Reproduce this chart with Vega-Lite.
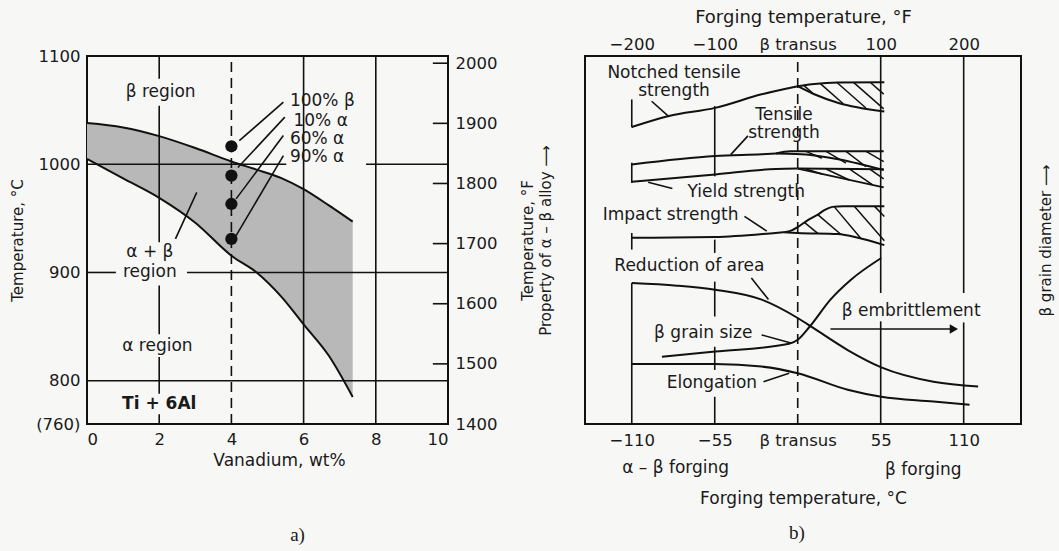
{
  "$schema": "https://vega.github.io/schema/vega-lite/v6.json",
  "background": "#f7f7f6",
  "padding": {"left": 9, "top": 7, "right": 5, "bottom": 5},
  "spacing": 0,
  "config": {
    "font": "DejaVu Sans",
    "view": {"stroke": "#111111", "strokeWidth": 2},
    "axis": {"labelFont": "DejaVu Sans", "titleFont": "DejaVu Sans", "labelColor": "#1a1a1a", "titleColor": "#1a1a1a", "titleFontWeight": "normal", "labelFontSize": 16.5, "titleFontSize": 17, "domain": false, "ticks": false, "grid": false, "labelPadding": 7},
    "text": {"font": "DejaVu Sans", "fontSize": 17, "color": "#1a1a1a", "baseline": "middle"},
    "title": {"font": "Liberation Serif", "fontSize": 19, "fontWeight": "normal", "color": "#1a1a1a"},
    "line": {"color": "#111111", "strokeWidth": 2},
    "rule": {"color": "#111111", "strokeWidth": 1.6}
  },
  "datasets": {
    "phase": [
      {"x": 0, "lo": 1005, "hi": 1038},
      {"x": 1, "lo": 987, "hi": 1034},
      {"x": 2, "lo": 969, "hi": 1026},
      {"x": 3, "lo": 946, "hi": 1015},
      {"x": 4, "lo": 915.5, "hi": 1002.5},
      {"x": 4.7, "lo": 900, "hi": 995},
      {"x": 5.4, "lo": 877, "hi": 987},
      {"x": 6, "lo": 852, "hi": 977},
      {"x": 6.7, "lo": 823, "hi": 962},
      {"x": 7.36, "lo": 785, "hi": 947}
    ],
    "lhl": [
      {"y": 1000, "x1": 0, "x2": 5.52},
      {"y": 1000, "x1": 7.73, "x2": 10},
      {"y": 900, "x1": 0, "x2": 0.8},
      {"y": 900, "x1": 2.77, "x2": 10},
      {"y": 800, "x1": 0, "x2": 10}
    ],
    "lvl": [
      {"x": 2, "y1": 1079, "y2": 1100},
      {"x": 2, "y1": 928, "y2": 1054},
      {"x": 2, "y1": 843, "y2": 888},
      {"x": 2, "y1": 788, "y2": 822},
      {"x": 2, "y1": 760, "y2": 769},
      {"x": 6, "y1": 760, "y2": 1100},
      {"x": 8, "y1": 760, "y2": 1100}
    ],
    "lleaders": [
      {"x": 5.44, "y": 1057.3, "x2": 4.22, "y2": 1021.8},
      {"x": 5.48, "y": 1043.5, "x2": 4.18, "y2": 997},
      {"x": 5.44, "y": 1026.5, "x2": 4.13, "y2": 968},
      {"x": 5.44, "y": 1008, "x2": 4.13, "y2": 934},
      {"x": 2.45, "y": 931, "x2": 3.04, "y2": 974}
    ],
    "dots": [
      {"x": 4, "T": 1016.6},
      {"x": 4, "T": 989.5},
      {"x": 4, "T": 963.3},
      {"x": 4, "T": 931}
    ],
    "ltl": [
      {"x": 5.62, "y": 1058.8, "t": "100% β"},
      {"x": 5.72, "y": 1040.3, "t": "10% α"},
      {"x": 5.62, "y": 1023.4, "t": "60% α"},
      {"x": 5.62, "y": 1006.8, "t": "90% α"}
    ],
    "ltc": [
      {"x": 2.04, "y": 1066.5, "t": "β region"},
      {"x": 1.74, "y": 918.7, "t": "α + β"},
      {"x": 1.74, "y": 900.2, "t": "region"},
      {"x": 1.95, "y": 832.4, "t": "α region"}
    ],
    "fticks": [
      {"F": 1500}, {"F": 1600}, {"F": 1700}, {"F": 1800}, {"F": 1900}, {"F": 2000}
    ],
    "curves": [
      {"s": "n", "x": -110, "v": 80.7}, {"s": "n", "x": -85.4, "v": 83.7}, {"s": "n", "x": -54.7, "v": 85.9}, {"s": "n", "x": -23.9, "v": 89.6}, {"s": "n", "x": 0, "v": 91.8},
      {"s": "nu", "x": 0, "v": 91.8}, {"s": "nu", "x": 11, "v": 92.4}, {"s": "nu", "x": 26.5, "v": 92.8}, {"s": "nu", "x": 57.4, "v": 92.9},
      {"s": "nl", "x": 0, "v": 91.8}, {"s": "nl", "x": 11, "v": 89.6}, {"s": "nl", "x": 26.5, "v": 87.3}, {"s": "nl", "x": 57.4, "v": 84.9},
      {"s": "t", "x": -110, "v": 70.5}, {"s": "t", "x": -54.7, "v": 72.8}, {"s": "t", "x": -23.9, "v": 73.3}, {"s": "t", "x": -14.4, "v": 73.5},
      {"s": "tu", "x": -14.4, "v": 73.5}, {"s": "tu", "x": -5, "v": 74.1}, {"s": "tu", "x": 57, "v": 74.1},
      {"s": "tl", "x": -14.4, "v": 73.5}, {"s": "tl", "x": -1.1, "v": 73.4}, {"s": "tl", "x": 57, "v": 69.0},
      {"s": "y", "x": -110, "v": 65.8}, {"s": "y", "x": -54.7, "v": 67.8}, {"s": "y", "x": -14.4, "v": 69.3}, {"s": "y", "x": 0, "v": 69.4},
      {"s": "yu", "x": 0, "v": 69.4}, {"s": "yu", "x": 57, "v": 69.2},
      {"s": "yl", "x": 0, "v": 69.4}, {"s": "yl", "x": 57, "v": 64.3},
      {"s": "i", "x": -110, "v": 50.6}, {"s": "i", "x": -54.7, "v": 50.8}, {"s": "i", "x": -14.8, "v": 51.9}, {"s": "i", "x": -8.9, "v": 52.1},
      {"s": "iu", "x": -8.9, "v": 52.1}, {"s": "iu", "x": -4, "v": 52.6}, {"s": "iu", "x": 0, "v": 53.5}, {"s": "iu", "x": 6, "v": 55.2}, {"s": "iu", "x": 13.3, "v": 56.9}, {"s": "iu", "x": 18, "v": 58.2}, {"s": "iu", "x": 23, "v": 59.0}, {"s": "iu", "x": 30, "v": 59.2}, {"s": "iu", "x": 57.4, "v": 59.2},
      {"s": "il", "x": -8.9, "v": 52.1}, {"s": "il", "x": 0, "v": 51.9}, {"s": "il", "x": 26.5, "v": 51.6}, {"s": "il", "x": 40, "v": 50.6}, {"s": "il", "x": 57.4, "v": 48.6},
      {"s": "r", "x": -110, "v": 38.3}, {"s": "r", "x": -80, "v": 37.6}, {"s": "r", "x": -54.7, "v": 36.5}, {"s": "r", "x": -23.9, "v": 33.8}, {"s": "r", "x": 0, "v": 28.8}, {"s": "r", "x": 10.3, "v": 26.1}, {"s": "r", "x": 33.1, "v": 20.1}, {"s": "r", "x": 55.4, "v": 15.4}, {"s": "r", "x": 90, "v": 11.5}, {"s": "r", "x": 119.6, "v": 10.2},
      {"s": "g", "x": -90, "v": 18.3}, {"s": "g", "x": -54.7, "v": 19.7}, {"s": "g", "x": -5.7, "v": 21.8}, {"s": "g", "x": 0, "v": 22.9}, {"s": "g", "x": 8, "v": 26.5}, {"s": "g", "x": 21.7, "v": 33.8}, {"s": "g", "x": 35.3, "v": 39.2}, {"s": "g", "x": 55.4, "v": 45.1},
      {"s": "e", "x": -110, "v": 16.3}, {"s": "e", "x": -54.7, "v": 16.3}, {"s": "e", "x": -23.9, "v": 15.6}, {"s": "e", "x": 0, "v": 13.8}, {"s": "e", "x": 33.1, "v": 9.3}, {"s": "e", "x": 55.4, "v": 7.4}, {"s": "e", "x": 90, "v": 6.1}, {"s": "e", "x": 113.9, "v": 5.2}
    ],
    "hatch": [
      {"x": 4, "v": 92.02, "x2": 10.4, "v2": 89.72},
      {"x": 15, "v": 92.5, "x2": 30.2, "v2": 87.03},
      {"x": 26, "v": 92.79, "x2": 45.2, "v2": 85.88},
      {"x": 37, "v": 92.83, "x2": 57, "v2": 85.63},
      {"x": 48, "v": 92.87, "x2": 57, "v2": 89.63},
      {"x": 5.5, "v": 74.1, "x2": 16, "v2": 72.2},
      {"x": 18.8, "v": 74.1, "x2": 32, "v2": 70.9},
      {"x": 32, "v": 74.1, "x2": 45.3, "v2": 69.9},
      {"x": 45.3, "v": 74.1, "x2": 57, "v2": 71.3},
      {"x": 5.5, "v": 69.3, "x2": 16.6, "v2": 67.85},
      {"x": 18.8, "v": 69.3, "x2": 34.2, "v2": 66.3},
      {"x": 34.2, "v": 69.3, "x2": 49.7, "v2": 64.95},
      {"x": 47.5, "v": 69.3, "x2": 57, "v2": 66.6},
      {"x": 4.4, "v": 54.8, "x2": 13.3, "v2": 51.8},
      {"x": 13.3, "v": 56.9, "x2": 28.7, "v2": 51.5},
      {"x": 24.3, "v": 59.0, "x2": 41.9, "v2": 50.4},
      {"x": 37.5, "v": 59.2, "x2": 57.4, "v2": 49.8},
      {"x": 50.8, "v": 59.2, "x2": 57.4, "v2": 56.4}
    ],
    "rvl": [
      {"x": -110, "v1": 88.2, "v2": 80.6},
      {"x": -110, "v1": 71.0, "v2": 65.5},
      {"x": -110, "v1": 51.9, "v2": 47.4},
      {"x": -110, "v1": 38.3, "v2": 0},
      {"x": -55, "v1": 86.4, "v2": 67.3},
      {"x": -55, "v1": 50.1, "v2": 46.5},
      {"x": -55, "v1": 38.7, "v2": 29.2},
      {"x": -55, "v1": 21.0, "v2": 14.7},
      {"x": -55, "v1": 7.4, "v2": 0},
      {"x": 55, "v1": 100, "v2": 35.6},
      {"x": 55, "v1": 27.9, "v2": 0},
      {"x": 110, "v1": 100, "v2": 35.6},
      {"x": 110, "v1": 27.6, "v2": 0}
    ],
    "rleaders": [
      {"x": -96.8, "v": 87.7, "x2": -85.4, "v2": 83.5},
      {"x": -33, "v": 78.3, "x2": -44.4, "v2": 73.2},
      {"x": -83.1, "v": 64.0, "x2": -99.1, "v2": 65.7},
      {"x": -35.3, "v": 56.4, "x2": -20.5, "v2": 52.4},
      {"x": -30.7, "v": 39.7, "x2": -19.4, "v2": 33.8},
      {"x": -23.9, "v": 24.2, "x2": -4.5, "v2": 22.0},
      {"x": -22.7, "v": 11.5, "x2": -5.7, "v2": 13.8},
      {"x": 21.7, "v": 25.8, "x2": 102, "v2": 25.8}
    ],
    "rtext": [
      {"x": -82, "v": 95.5, "t": "Notched tensile"},
      {"x": -82, "v": 90.5, "t": "strength"},
      {"x": -9.1, "v": 84.1, "t": "Tensile"},
      {"x": -9.1, "v": 79.1, "t": "strength"},
      {"x": -34.1, "v": 63.0, "t": "Yield strength"},
      {"x": -84.3, "v": 56.9, "t": "Impact strength"},
      {"x": -71.8, "v": 42.8, "t": "Reduction of area"},
      {"x": -62.6, "v": 24.7, "t": "β grain size"},
      {"x": -56.9, "v": 11.1, "t": "Elongation"},
      {"x": 75.2, "v": 30.6, "t": "β embrittlement"},
      {"x": -80.9, "v": -12.0, "t": "α – β forging"},
      {"x": 83.2, "v": -12.5, "t": "β forging"}
    ]
  },
  "hconcat": [
    {
      "width": 361,
      "height": 368,
      "title": {"text": "a)", "orient": "bottom", "offset": 57, "dx": 30},
      "layer": [
        {
          "layer": [
            {
              "data": {"name": "phase"},
              "mark": {"type": "area", "color": "#b8b8b8", "interpolate": "monotone"},
              "encoding": {
                "x": {"field": "x", "type": "quantitative", "scale": {"domain": [0, 10], "nice": false}, "axis": {"values": [0, 2, 4, 6, 8, 10], "format": "d", "title": "Vanadium, wt%", "titlePadding": 5, "titleX": 192}},
                "y": {"field": "lo", "type": "quantitative", "scale": {"domain": [760, 1100], "nice": false, "zero": false}, "axis": {"values": [760, 800, 900, 1000, 1100], "format": "d", "labelExpr": "datum.value == 760 ? '(760)' : datum.label", "title": "Temperature, °C", "titleFontSize": 15, "titlePadding": 10}},
                "y2": {"field": "hi"}
              }
            },
            {
              "data": {"name": "lhl"},
              "mark": "rule",
              "encoding": {"x": {"field": "x1", "type": "quantitative"}, "x2": {"field": "x2"}, "y": {"field": "y", "type": "quantitative"}}
            },
            {
              "data": {"name": "lvl"},
              "mark": "rule",
              "encoding": {"x": {"field": "x", "type": "quantitative"}, "y": {"field": "y1", "type": "quantitative"}, "y2": {"field": "y2"}}
            },
            {
              "data": {"values": [{"x": 4, "y1": 760, "y2": 1100}]},
              "mark": {"type": "rule", "strokeDash": [10, 6]},
              "encoding": {"x": {"field": "x", "type": "quantitative"}, "y": {"field": "y1", "type": "quantitative"}, "y2": {"field": "y2"}}
            },
            {
              "data": {"name": "phase"},
              "mark": {"type": "line", "interpolate": "monotone"},
              "encoding": {"x": {"field": "x", "type": "quantitative"}, "y": {"field": "hi", "type": "quantitative"}}
            },
            {
              "data": {"name": "phase"},
              "mark": {"type": "line", "interpolate": "monotone"},
              "encoding": {"x": {"field": "x", "type": "quantitative"}, "y": {"field": "lo", "type": "quantitative"}}
            },
            {
              "data": {"name": "lleaders"},
              "mark": "rule",
              "encoding": {"x": {"field": "x", "type": "quantitative"}, "y": {"field": "y", "type": "quantitative"}, "x2": {"field": "x2"}, "y2": {"field": "y2"}}
            },
            {
              "data": {"name": "dots"},
              "mark": {"type": "point", "filled": true, "size": 150, "color": "#111111", "opacity": 1},
              "encoding": {"x": {"field": "x", "type": "quantitative"}, "y": {"field": "T", "type": "quantitative"}}
            },
            {
              "data": {"name": "ltl"},
              "mark": {"type": "text", "align": "left"},
              "encoding": {"x": {"field": "x", "type": "quantitative"}, "y": {"field": "y", "type": "quantitative"}, "text": {"field": "t"}}
            },
            {
              "data": {"name": "ltc"},
              "mark": {"type": "text", "align": "center"},
              "encoding": {"x": {"field": "x", "type": "quantitative"}, "y": {"field": "y", "type": "quantitative"}, "text": {"field": "t"}}
            },
            {
              "data": {"values": [{"x": 2.0, "y": 778.5, "t": "Ti + 6Al"}]},
              "mark": {"type": "text", "align": "center", "fontWeight": "bold"},
              "encoding": {"x": {"field": "x", "type": "quantitative"}, "y": {"field": "y", "type": "quantitative"}, "text": {"field": "t"}}
            }
          ]
        },
        {
          "data": {"name": "fticks"},
          "mark": {"type": "rule"},
          "encoding": {
            "y": {"field": "F", "type": "quantitative", "scale": {"domain": [1400, 2012], "nice": false, "zero": false}, "axis": {"orient": "right", "values": [1400, 1500, 1600, 1700, 1800, 1900, 2000], "format": "d", "title": "Temperature, °F", "titleFontSize": 15, "titleAngle": 270, "titleBaseline": "top", "titlePadding": 24}},
            "x": {"datum": 9.58, "type": "quantitative"},
            "x2": {"datum": 10}
          }
        }
      ],
      "resolve": {"scale": {"y": "independent"}, "axis": {"y": "independent"}}
    },
    {
      "width": 436,
      "height": 368,
      "title": {"text": "b)", "orient": "bottom", "offset": 17, "dx": -6},
      "layer": [
        {
          "layer": [
            {
              "data": {"name": "rvl"},
              "mark": "rule",
              "encoding": {
                "x": {"field": "x", "type": "quantitative", "scale": {"domain": [-141, 148], "nice": false, "zero": false}, "axis": {"values": [-110, -55, 0, 55, 110], "labelExpr": "datum.value == 0 ? 'β transus' : (datum.value < 0 ? '−' + format(-datum.value, 'd') : format(datum.value, 'd'))", "title": "Forging temperature, °C", "labelPadding": 8, "titlePadding": 42}},
                "y": {"field": "v1", "type": "quantitative", "scale": {"domain": [0, 100], "nice": false}, "axis": {"labels": false, "title": "Property of α – β alloy ⟶", "titleFontSize": 15, "titlePadding": 32}},
                "y2": {"field": "v2"}
              }
            },
            {
              "data": {"values": [{"x": 0, "v1": 0, "v2": 100}]},
              "mark": {"type": "rule", "strokeDash": [10, 6]},
              "encoding": {"x": {"field": "x", "type": "quantitative"}, "y": {"field": "v1", "type": "quantitative"}, "y2": {"field": "v2"}}
            },
            {
              "data": {"name": "hatch"},
              "mark": {"type": "rule", "strokeWidth": 1.5},
              "encoding": {"x": {"field": "x", "type": "quantitative"}, "y": {"field": "v", "type": "quantitative"}, "x2": {"field": "x2"}, "y2": {"field": "v2"}}
            },
            {
              "data": {"name": "curves"},
              "mark": {"type": "line", "interpolate": "monotone"},
              "encoding": {"x": {"field": "x", "type": "quantitative"}, "y": {"field": "v", "type": "quantitative"}, "detail": {"field": "s"}}
            },
            {
              "data": {"name": "rleaders"},
              "mark": "rule",
              "encoding": {"x": {"field": "x", "type": "quantitative"}, "y": {"field": "v", "type": "quantitative"}, "x2": {"field": "x2"}, "y2": {"field": "v2"}}
            },
            {
              "data": {"values": [{"x": 103.5, "v": 25.8}]},
              "mark": {"type": "point", "shape": "triangle-right", "filled": true, "size": 90, "color": "#111111", "opacity": 1},
              "encoding": {"x": {"field": "x", "type": "quantitative"}, "y": {"field": "v", "type": "quantitative"}}
            },
            {
              "data": {"name": "rtext"},
              "mark": {"type": "text", "align": "center"},
              "encoding": {"x": {"field": "x", "type": "quantitative"}, "y": {"field": "v", "type": "quantitative"}, "text": {"field": "t"}}
            }
          ]
        },
        {
          "data": {"values": [{"x": 0, "v": 50}]},
          "mark": {"type": "point", "opacity": 0},
          "encoding": {
            "x": {"field": "x", "type": "quantitative", "scale": {"domain": [-141, 148], "nice": false, "zero": false}, "axis": {"orient": "top", "values": [-110, -55, 0, 55, 110], "labelExpr": "datum.value == 0 ? 'β transus' : (datum.value == -110 ? '−200' : (datum.value == -55 ? '−100' : (datum.value == 55 ? '100' : '200')))", "title": "Forging temperature, °F", "titleFontSize": 18, "labelPadding": 4, "titlePadding": 10}},
            "y": {"field": "v", "type": "quantitative", "scale": {"domain": [0, 100], "nice": false}, "axis": {"orient": "right", "labels": false, "title": "β grain diameter ⟶", "titleFontSize": 15, "titleAngle": 270, "titleBaseline": "top", "titlePadding": 17}}
          }
        }
      ],
      "resolve": {"axis": {"x": "independent", "y": "independent"}}
    }
  ]
}
